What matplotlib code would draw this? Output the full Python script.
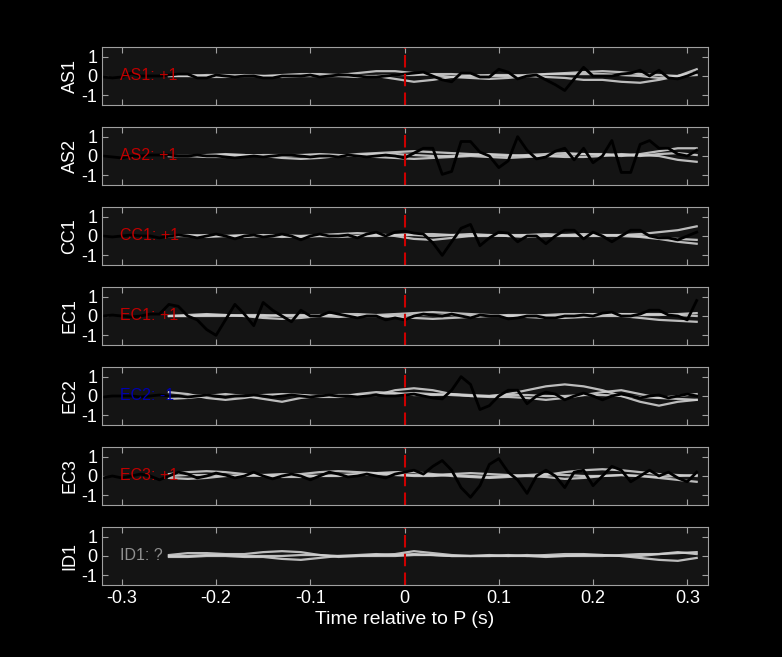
import numpy as np
import matplotlib
matplotlib.use("Agg")
import matplotlib.pyplot as plt
plt.rcParams['font.family'] = ['Liberation Sans', 'DejaVu Sans']

stations = ["AS1", "AS2", "CC1", "EC1", "EC2", "EC3", "ID1"]
labels = ["AS1: +1", "AS2: +1", "CC1: +1", "EC1: +1", "EC2: -1", "EC3: +1", "ID1: ?"]
label_colors = ["#c00000", "#c00000", "#c00000", "#c00000", "#0000b0", "#c00000", "#909090"]

t_black = np.round(np.arange(-0.33, 0.315, 0.01), 3)  # 65 samples
black = {
 "AS1": [0.0,-0.05,-0.1,-0.05,0.15,0.0,0.0,0.0,0.05,0.1,0.1,-0.1,-0.1,0.05,0.0,-0.05,0.0,0.0,-0.1,-0.1,0.0,0.0,0.0,0.05,-0.05,0.0,0.05,0.05,0.0,-0.05,-0.05,0.0,0.05,0.1,
         0.15,0.2,0.0,-0.2,-0.3,0.15,0.15,-0.05,-0.05,0.35,0.2,-0.15,0.0,0.05,-0.2,-0.45,-0.75,-0.15,0.45,0.0,0.0,0.0,0.1,0.15,0.3,0.0,0.3,-0.1,-0.15,0.0,0.2][:65],
 "AS2": [0.0,0.0,-0.05,-0.1,0.0,0.0,0.05,0.05,0.05,0.0,0.0,0.05,0.0,0.0,-0.05,-0.1,-0.05,0.0,-0.05,0.0,0.05,0.05,0.0,-0.05,0.0,0.0,-0.05,0.05,0.0,-0.05,0.0,0.05,0.0,-0.1,
         0.15,0.4,0.4,-0.95,-0.8,0.75,0.75,0.2,0.0,-0.6,-0.25,1.0,0.3,-0.15,-0.05,0.25,0.4,-0.2,0.4,-0.35,0.0,0.8,-0.85,-0.85,0.6,0.8,0.4,0.4,0.1,0.0,0.3][:65],
 "CC1": [0.1,0.0,-0.05,0.0,0.05,0.0,0.0,-0.1,0.0,0.05,0.0,-0.1,0.0,0.1,0.0,-0.15,0.0,0.05,-0.05,0.0,0.1,0.0,-0.2,0.0,0.1,0.0,0.0,0.05,-0.1,0.1,0.2,0.0,0.2,0.25,
         0.15,0.1,-0.35,-1.0,-0.3,0.4,0.6,-0.5,-0.1,0.2,0.15,-0.3,0.0,0.0,-0.4,0.0,0.3,0.3,-0.15,0.2,0.0,-0.3,0.0,0.3,0.3,0.0,-0.1,-0.1,-0.2,0.0,0.2][:65],
 "EC1": [0.1,0.0,0.05,0.0,-0.05,0.0,0.1,0.1,0.6,0.5,0.0,-0.2,-0.7,-1.0,-0.2,0.6,0.1,-0.5,0.7,0.3,0.0,-0.3,0.3,0.0,0.0,0.2,0.1,0.0,-0.1,0.0,0.0,-0.2,-0.1,-0.2,
         0.0,0.1,0.05,0.0,0.1,0.0,-0.1,0.05,0.0,0.0,-0.15,-0.1,0.0,0.0,-0.1,-0.1,0.0,0.0,0.05,0.0,0.15,0.2,0.0,0.0,0.1,0.3,0.3,0.05,0.0,-0.2,0.8][:65],
 "EC2": [0.0,-0.05,0.0,0.0,0.0,-0.05,0.0,0.05,0.0,0.0,-0.05,0.0,0.05,0.0,-0.05,0.0,0.0,0.05,0.0,-0.05,0.0,0.05,0.0,-0.05,0.0,0.05,0.0,0.0,-0.05,0.0,0.05,0.0,0.0,0.05,
         0.1,0.0,-0.1,-0.15,0.3,1.0,0.6,-0.7,-0.5,0.0,0.3,0.3,-0.4,0.0,0.2,0.1,-0.2,0.0,0.15,0.0,-0.2,0.0,0.1,0.0,-0.1,0.0,0.05,-0.1,0.0,0.1,0.0][:65],
 "EC3": [0.0,-0.1,0.0,-0.1,0.0,0.1,0.0,-0.2,0.0,0.2,0.1,-0.1,0.0,0.15,0.05,-0.1,0.0,0.2,0.0,-0.15,0.0,0.1,0.0,-0.2,0.0,0.2,0.1,-0.05,0.0,0.1,0.0,-0.1,0.1,0.2,
         0.3,0.1,0.5,0.8,0.3,-0.6,-1.1,-0.5,0.6,0.9,0.2,-0.2,-0.9,0.0,0.3,0.0,-0.6,0.2,0.3,-0.5,0.0,0.5,0.3,-0.3,0.0,0.3,0.0,0.2,-0.1,-0.3,0.2][:65],
}

t_gray = np.round(np.arange(-0.25, 0.321, 0.02), 3)  # 29 samples
gray = {
 "AS1": [[0,0,0.05,0.05,0,0,0.05,0.1,0.1,0.05,0.15,0.25,0.25,0.15,0.05,-0.05,-0.1,-0.15,-0.1,0,0.1,0.1,0.1,0.1,0.05,0,-0.1,0,0.35],
         [0,0,-0.05,-0.05,0,0,-0.05,0,0,0,-0.05,0,-0.15,-0.3,-0.2,-0.05,0,0.05,0.05,0,-0.05,-0.1,-0.2,-0.2,-0.3,-0.35,-0.2,0.0,0.2],
         [0,0.05,0,0,0.05,0,0,0,0,0,0,0,0.05,0.05,0.1,0.1,0.05,0,0,0.05,0.1,0.15,0.2,0.25,0.2,0.1,0.05,0,0.05]],
 "AS2": [[0,0,0.05,0.1,0.05,0,-0.1,-0.15,-0.1,0,0.1,0.15,0.2,0.25,0.2,0.15,0.1,0.05,0,0.05,0.1,0.15,0.1,0.05,0,0.1,0.25,0.4,0.4],
         [0,0,-0.05,-0.05,0,0.05,0.05,0.05,0.1,0.05,0,-0.05,-0.1,-0.15,-0.1,-0.05,0,-0.05,-0.1,-0.05,0,-0.05,-0.05,0,0.1,0.05,0,-0.2,-0.3],
         [0,0,0,0.05,0.05,0,0,0.05,0,0,0.05,0.1,0.1,0.05,0,0,0.05,0.1,0.05,0,0,0.05,0.1,0.1,0.05,0,0.1,0.15,0.05]],
 "CC1": [[0,0,0.05,0,-0.05,0,0.05,0,0.05,0.1,0.15,0.1,0,-0.15,-0.2,-0.1,0,0.05,0,-0.05,0,0.05,0.1,0.05,0,-0.05,-0.15,-0.3,-0.4],
         [0,0,-0.05,0,0.05,0,-0.05,0,0,-0.05,0,0.05,0.05,0.05,0,0.05,0.1,0.05,0,0.05,0.1,0.05,0,0,0.05,0.1,0.2,0.3,0.5],
         [0,0.05,0,0,0,0.05,0,-0.05,0,0,0,0,0.05,0.1,0.1,0.05,0,0,0.05,0.05,0,0,0,0.05,0.05,0,-0.1,-0.15,-0.2]],
 "EC1": [[0,0,0.05,0.05,0,-0.1,-0.15,-0.1,0,0.1,0.1,0.05,0.1,0.15,0.2,0.15,0.1,0.05,0,0,0.05,0.1,0.1,0.1,0.1,0.1,0.1,0.05,0],
         [0,0.05,0.1,0.05,0,0,0.05,0.05,0,-0.05,0,0,-0.05,-0.1,-0.15,-0.1,-0.05,0,0,-0.05,-0.1,-0.1,-0.05,0,0,-0.1,-0.2,-0.25,-0.3],
         [0,0,0,0,0.05,0.05,0,0,0.05,0.05,0,0,0,0.05,0.05,0.05,0,0,0.05,0.05,0,0,0.05,0.1,0.1,0.05,0.05,0.1,0.15]],
 "EC2": [[0.2,0.1,-0.1,-0.2,-0.1,0.05,0.1,0.05,-0.05,-0.05,0.1,0.2,0.15,0.05,0.05,0.1,0.05,0,0.1,0.3,0.5,0.6,0.5,0.3,0,-0.3,-0.5,-0.3,-0.2],
         [-0.15,-0.1,0,0.1,0,-0.15,-0.3,-0.1,0,0.05,0.05,0.05,0.3,0.4,0.3,0.1,0,-0.05,-0.05,-0.1,-0.2,-0.1,0.05,0.2,0.3,0.1,-0.1,0,0.1],
         [0,0,0.05,0,-0.05,0,0.05,0.05,0,0,0.05,0.05,0.1,0.15,0.1,0.05,0,0,0.05,0.05,0,0,0.05,0.05,0,-0.05,-0.1,-0.15,-0.2]],
 "EC3": [[0.1,0.2,0.25,0.2,0.1,0.05,0,0.1,0.2,0.25,0.2,0.15,0.1,0.05,0.05,0.1,0.15,0.1,0.05,0,0.05,0.2,0.3,0.35,0.3,0.2,0.1,0.05,0],
         [-0.1,-0.15,-0.1,0,0.05,0,-0.05,-0.05,0,0.05,0.1,0.15,0.2,0.2,0.1,0,-0.05,-0.1,-0.05,0,-0.05,-0.15,-0.1,0,0.05,0,-0.1,-0.2,-0.3],
         [0,0.05,0.05,0,0,0.05,0.1,0.05,0,0,0.05,0.1,0.05,0,0,0.05,0,-0.05,0,0.05,0.1,0.05,0,0,0.05,0,-0.05,0,0.05]],
 "ID1": [[0.05,0.15,0.15,0.1,0.1,0.2,0.25,0.2,0.05,-0.05,0,0.05,0.1,0.25,0.15,0.05,0,0,0.05,0,-0.05,0,0.05,0.05,0,0,0.1,0.2,0.1],
         [-0.05,-0.05,0,0,-0.05,-0.05,-0.15,-0.2,-0.1,0,0.05,0.1,0.05,0.1,0.05,0,0,0.05,0,0,0.05,0.1,0.1,0.05,0,-0.1,-0.2,-0.25,-0.1],
         [0,0,0.05,0.05,0,0,0,0.05,0.05,0,0,0,0,0.05,0.05,0,0,0,0,0.05,0,0,0,0,0.05,0.1,0.1,0.15,0.2]],
}

W, H = 782, 657
fig = plt.figure(figsize=(W/100, H/100), dpi=100, facecolor="black")
left, right = 102/W, 708/W
for i, st in enumerate(stations):
    top = 47 + 80*i
    ax = fig.add_axes([left, 1-(top+58)/H, right-left, 58/H], facecolor="#141414")
    for g in gray[st]:
        ax.plot(t_gray, g, color="#d0d0d0", lw=1.6, alpha=0.9)
    if st in black:
        ax.plot(t_black, black[st], color="black", lw=2.0)
    ax.axvline(0, color="#cc0000", lw=1.5, dashes=(6, 3))
    ax.text(-0.302, 0, labels[i], color=label_colors[i], fontsize=11.5, va="center", ha="left")
    ax.set_xlim(-0.321, 0.322)
    ax.set_ylim(-1.5, 1.5)
    ax.set_yticks([-1, 0, 1])
    ax.set_yticklabels(["-1", "0", "1"])
    ax.set_xticks([-0.3, -0.2, -0.1, 0, 0.1, 0.2, 0.3])
    ax.set_ylabel(st, color="white", fontsize=13, labelpad=2)
    for s in ax.spines.values():
        s.set_color("#a0a0a0")
    ax.tick_params(colors="#a0a0a0", labelcolor="white", labelsize=13, direction="in",
                   top=True, right=True, length=4)
    if i < len(stations)-1:
        ax.set_xticklabels([])
    else:
        ax.set_xticklabels(["-0.3", "-0.2", "-0.1", "0", "0.1", "0.2", "0.3"])
        ax.set_xlabel("Time relative to P (s)", color="white", fontsize=14, labelpad=3)
fig.savefig("out.png", dpi=100, facecolor="black")
